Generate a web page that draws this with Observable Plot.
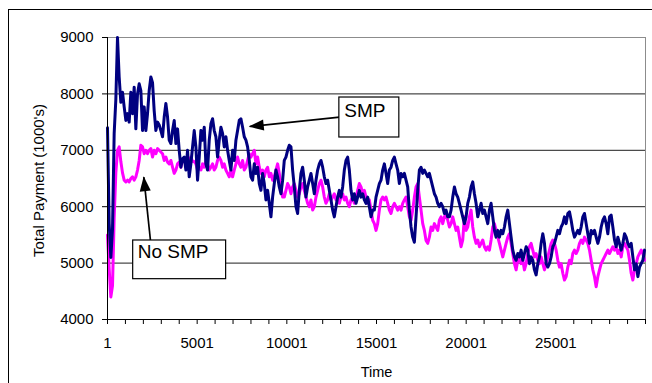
<!DOCTYPE html>
<html><head><meta charset="utf-8">
<script src="https://cdn.jsdelivr.net/npm/d3@7"></script>
<script src="https://cdn.jsdelivr.net/npm/@observablehq/plot@0.6"></script>
<style>
html,body{margin:0;padding:0;background:#fff;overflow:hidden}
#wrap{position:relative;width:652px;height:383px;overflow:hidden;background:#fff}
#frame{position:absolute;left:8px;top:9px;width:700px;height:420px;border:1px solid #000;box-sizing:border-box;pointer-events:none}
</style></head><body><div id="wrap"><div id="frame"></div></div>
<script>
// Samples taken every `sampleStep` time steps, starting at time 1
const sampleStep = 93;

// SMP series (navy)
const smp = [
  7400,5700,5100,5600,7300,7900,9000,8300,7850,8030,7770,7530,7650,7500,8030,7650,8120,7380,8000,8180,8060,7350,7770,7350,7650,8060,8300,8200,7700,7350,7500,7450,7350,7240,7590,7830,7590,7180,7120,7350,7530,7120,7380,7000,6700,6850,6880,6650,7000,6530,6760,7060,
  7350,7060,6470,6880,7350,7180,7410,6760,6650,7180,7470,7560,7350,7240,6880,7180,7410,7300,7060,7240,7000,6820,6650,7000,6820,7180,7350,7530,7560,7410,7240,7180,7060,6820,6530,6470,6760,6590,6700,6410,6290,6590,6410,6120,6290,6060,5820,6170,6410,6650,6530,6350,6230,6470,
  6820,6880,7000,7090,7060,6650,6350,6000,5880,6290,6590,6700,6470,6170,6350,6470,6590,6410,6230,6470,6650,6760,6820,6700,6530,6410,6470,6290,6120,5940,5820,6000,6170,6290,6170,6350,6650,6820,6880,6650,6290,6120,6230,6060,6170,6290,6170,6230,6120,6060,6170,6000,5820,5940,
  5940,6170,6290,6410,6470,6650,6760,6590,6410,6650,6700,6820,6880,6760,6650,6410,6590,6530,6590,6470,6350,5940,5640,5460,5370,5820,6290,6650,6700,6590,6650,6590,6530,6590,6470,6350,6230,6170,6060,6000,6060,6000,5880,5940,5820,5820,5940,6170,6350,6230,6170,6060,5940,5820,
  5700,5820,6060,6170,6350,6440,6230,6060,5820,5940,6060,5880,5940,5820,5700,5940,6060,5820,5580,5460,5580,5460,5580,5520,5640,5820,5940,5700,5460,5230,5110,5050,5170,5110,5230,5050,5170,5290,5230,4990,5110,5050,4880,4790,4990,5110,5350,5520,5350,4990,4930,4990,5110,5290,
  5350,5460,5580,5520,5640,5700,5820,5700,5880,5910,5760,5580,5460,5520,5580,5520,5640,5820,5880,5700,5520,5350,5580,5520,5580,5460,5350,5460,5640,5760,5820,5700,5520,5820,5850,5640,5410,5290,5460,5350,5230,5350,5520,5460,5350,5290,5350,5110,4880,4990,4760,4930,4990,5050,5230
];

// No SMP series (magenta)
const noSmp = [
  5500,4900,4400,4600,5800,6600,7000,7060,6800,6600,6470,6440,6470,6440,6500,6530,6470,6530,6650,6820,7090,7060,6940,7000,6940,7000,7030,6880,7000,6940,7030,7000,6970,6940,6820,6880,6790,6760,6820,6700,6590,6650,6760,6790,6700,6820,6800,6850,6780,6820,6880,6800,
  6800,6760,6650,6700,6650,6760,6700,6820,6760,6650,6700,6760,6650,6700,6820,6880,6820,6700,6760,6650,6590,6530,6650,6530,6650,6760,6880,6760,6700,6820,6650,6700,6820,6940,6880,6940,7000,6760,6880,6700,6590,6650,6530,6650,6700,6530,6590,6470,6530,6650,6760,6590,6350,6170,
  6170,6290,6410,6350,6230,6350,6410,6290,6170,6230,6350,6410,6290,6170,6060,6000,6120,5940,6000,6170,6290,6410,6470,6350,6170,6060,6120,6230,6120,6170,6230,6120,6170,6060,6170,6230,6120,6170,6060,6000,6120,6170,6060,6170,6290,6410,6350,6230,6290,6170,6060,6120,5940,5760,
  5700,5580,5700,5940,6120,6170,6120,6170,6060,5940,5880,6000,6060,6000,5940,6000,5940,6060,6120,6170,6000,5820,5760,5940,6170,6350,6410,6170,5940,5700,5580,5400,5350,5460,5640,5580,5700,5640,5580,5760,5820,5700,5820,5880,5760,5640,5700,5820,5700,5580,5640,5460,5290,5410,
  5820,5580,5640,5820,5940,5640,5460,5350,5410,5290,5350,5410,5290,5230,5290,5230,5410,5640,5700,5580,5460,5350,5230,5110,5230,5350,5460,5520,5350,5170,4990,4880,5050,5110,4990,5050,4880,4990,5170,5290,5350,5230,5110,5170,5050,4990,5110,4990,4880,4990,5110,5230,5350,5410,
  5350,5230,5050,4930,4990,4820,4700,4760,4930,5050,4990,5170,5230,5170,5230,5350,5410,5350,5460,5410,5350,5230,5050,4880,4760,4580,4760,4880,4990,5050,5110,5170,5230,5170,5230,5290,5230,5290,5170,5230,5110,5290,5350,5290,5230,5050,4820,4700,4880,4990,5110,5170,5230,5170,5050
];

// Axis tick values / labels
const yTicks = [4000, 5000, 6000, 7000, 8000, 9000];
const gridValues = [5000, 6000, 7000, 8000];
const xTickLabels = [1, 5001, 10001, 15001, 20001, 25001];
const xDomain = [1, 30001];
const yDomain = [4000, 9000];

// Callout annotations (data coordinates)
const calloutLabels = ["SMP", "No SMP"];
const calloutBoxes = [
  {x1: 12930, x2: 16274, y1: 7227, y2: 7936},
  {x1: 1433, x2: 6616, y1: 4715, y2: 5401}
];
const calloutText = [{x: 13209, y: 7700}, {x: 1690, y: 5194}];
const calloutArrows = [
  {x1: 12947, y1: 7587, x2: 7932, y2: 7422},
  {x1: 2397, y1: 5401, x2: 2024, y2: 6523}
];

const smpRows = smp.map((v, i) => ({t: 1 + i * sampleStep, v}));
const noSmpRows = noSmp.map((v, i) => ({t: 1 + i * sampleStep, v}));
const minorTicks = d3.range(xDomain[0], xDomain[1] + 1, 1000);
const textRows = calloutText.map((d, i) => ({...d, label: calloutLabels[i]}));

const font = "Liberation Sans, Arial, Helvetica, sans-serif";
const plain = d => String(d);

const chart = Plot.plot({
  width: 652,
  height: 383,
  marginLeft: 107,
  marginRight: 7,
  marginTop: 37,
  marginBottom: 64,
  x: {domain: xDomain},
  y: {domain: yDomain},
  style: {fontFamily: font, fontSize: "15px", background: "transparent", color: "#000", overflow: "visible"},
  marks: [
    Plot.gridY({ticks: gridValues, stroke: "#1e1e1e", strokeOpacity: 1}),
    Plot.ruleY([9000], {stroke: "#8c8c8c"}),
    Plot.ruleX([xDomain[1]], {stroke: "#8c8c8c"}),
    Plot.line(noSmpRows, {x: "t", y: "v", stroke: "#ff00ff", strokeWidth: 3, strokeLinejoin: "round"}),
    Plot.line(smpRows, {x: "t", y: "v", stroke: "#000080", strokeWidth: 3, strokeLinejoin: "round"}),
    Plot.ruleX([xDomain[0]], {stroke: "#000"}),
    Plot.ruleY([yDomain[0]], {stroke: "#000"}),
    Plot.axisY({ticks: yTicks, tickFormat: plain, tickSize: 5, tickPadding: 9, label: null, fontSize: 15}),
    Plot.axisX({ticks: minorTicks, tickSize: 5, tickFormat: () => "", label: null}),
    Plot.axisX({ticks: xTickLabels, tickFormat: plain, tickSize: 0, tickPadding: 18, label: null, fontSize: 15}),
    Plot.text(["Time"], {frameAnchor: "bottom", lineAnchor: "middle", textAnchor: "middle", dy: 53, fontSize: 14.5, fill: "#000"}),
    Plot.text(["Total Payment (1000's)"], {frameAnchor: "left", textAnchor: "middle", lineAnchor: "middle", rotate: -90, dx: -68, dy: 2, fontSize: 15, fill: "#000"}),
    Plot.link(calloutArrows, {x1: "x1", y1: "y1", x2: "x2", y2: "y2", stroke: "#000", strokeWidth: 1.7, markerEnd: "arrow"}),
    Plot.rect(calloutBoxes, {x1: "x1", x2: "x2", y1: "y1", y2: "y2", fill: "#fff", stroke: "#000", strokeWidth: 1.2}),
    Plot.text(textRows, {x: "x", y: "y", text: "label", textAnchor: "start", fontSize: 19, fill: "#000"})
  ]
});

// Filled arrowheads like the original callouts
chart.querySelectorAll("marker").forEach(m => {
  m.setAttribute("markerUnits", "userSpaceOnUse");
  m.setAttribute("viewBox", "-15 -7 17 14");
  m.setAttribute("markerWidth", "17");
  m.setAttribute("markerHeight", "14");
  m.setAttribute("fill", "#000");
  m.setAttribute("stroke", "none");
  m.setAttribute("refX", "0");
  m.setAttribute("refY", "0");
  m.innerHTML = '<path d="M-14,-5.5L1,0L-14,5.5Z"></path>';
});

document.getElementById("wrap").insertBefore(chart, document.getElementById("frame"));
</script>
</body></html>
